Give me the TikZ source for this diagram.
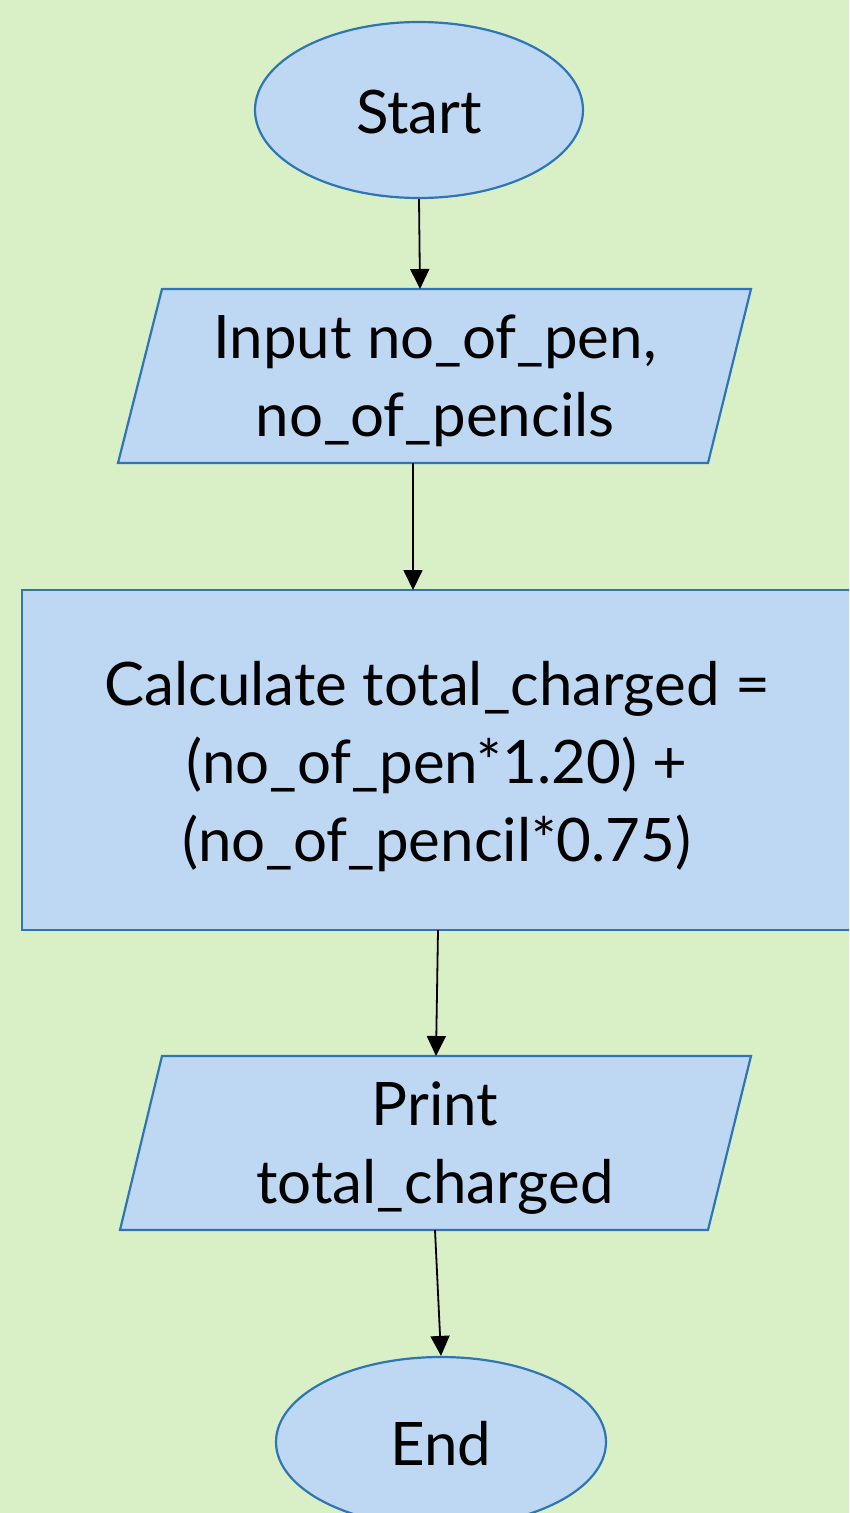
\documentclass[tikz,border=0pt]{standalone}
\usepackage{fontspec}
\setmainfont{Lato}
\usetikzlibrary{shapes.geometric,arrows.meta}
\definecolor{bg}{RGB}{217,240,199}
\definecolor{boxfill}{RGB}{190,215,243}
\definecolor{boxline}{RGB}{46,117,182}
\tikzset{
  shapeline/.style={draw=boxline, line width=2.2pt, fill=boxfill},
  term/.style={shapeline, ellipse, inner sep=0pt},
  label/.style={font=\fontsize{60}{78}\selectfont, align=center, text=black},
  flow/.style={draw=black, line width=1.8pt, -{Triangle[length=20pt,width=19pt]}}
}
\begin{document}
\begin{tikzpicture}[x=1pt,y=-1pt]
\useasboundingbox (0,0) rectangle (849,1513);
\clip (0,0) rectangle (849,1513);
\fill[bg] (0,0) rectangle (849,1513);

% Start
\node[term, minimum width=328pt, minimum height=176pt] (start) at (419,110) {};
\node[label] (startt) at (419,112) {Start};

% Input parallelogram
\coordinate (inA) at (162,289);
\coordinate (inB) at (751,289);
\coordinate (inC) at (708,463);
\coordinate (inD) at (118,463);
\draw[shapeline] (inA) -- (inB) -- (inC) -- (inD) -- cycle;
\node[label] (input) at (435,381) {Input no\_of\_pen,\\no\_of\_pencils};
\coordinate (inTop) at (420,289);
\coordinate (inBot) at (413,463);

% Calculate rectangle
\draw[shapeline] (22,590) rectangle (880,930);
\node[label] (calc) at (437,767) {Calculate total\_charged =\\(no\_of\_pen*1.20) +\\(no\_of\_pencil*0.75)};
\coordinate (calcTop) at (413,590);
\coordinate (calcBot) at (438,930);

% Print parallelogram
\coordinate (prA) at (162,1056);
\coordinate (prB) at (751,1056);
\coordinate (prC) at (708,1230);
\coordinate (prD) at (120,1230);
\draw[shapeline] (prA) -- (prB) -- (prC) -- (prD) -- cycle;
\node[label] (print) at (435,1148) {Print\\total\_charged};
\coordinate (prTop) at (436,1056);
\coordinate (prBot) at (435,1230);

% End
\node[term, minimum width=330pt, minimum height=170pt] (end) at (441,1442) {};
\node[label] (endt) at (441,1444) {End};

% Connectors
\draw[flow] (start.south) -- (inTop);
\draw[flow] (inBot) -- (calcTop);
\draw[flow] (calcBot) -- (prTop);
\draw[flow] (prBot) -- (end.north);
\end{tikzpicture}
\end{document}
